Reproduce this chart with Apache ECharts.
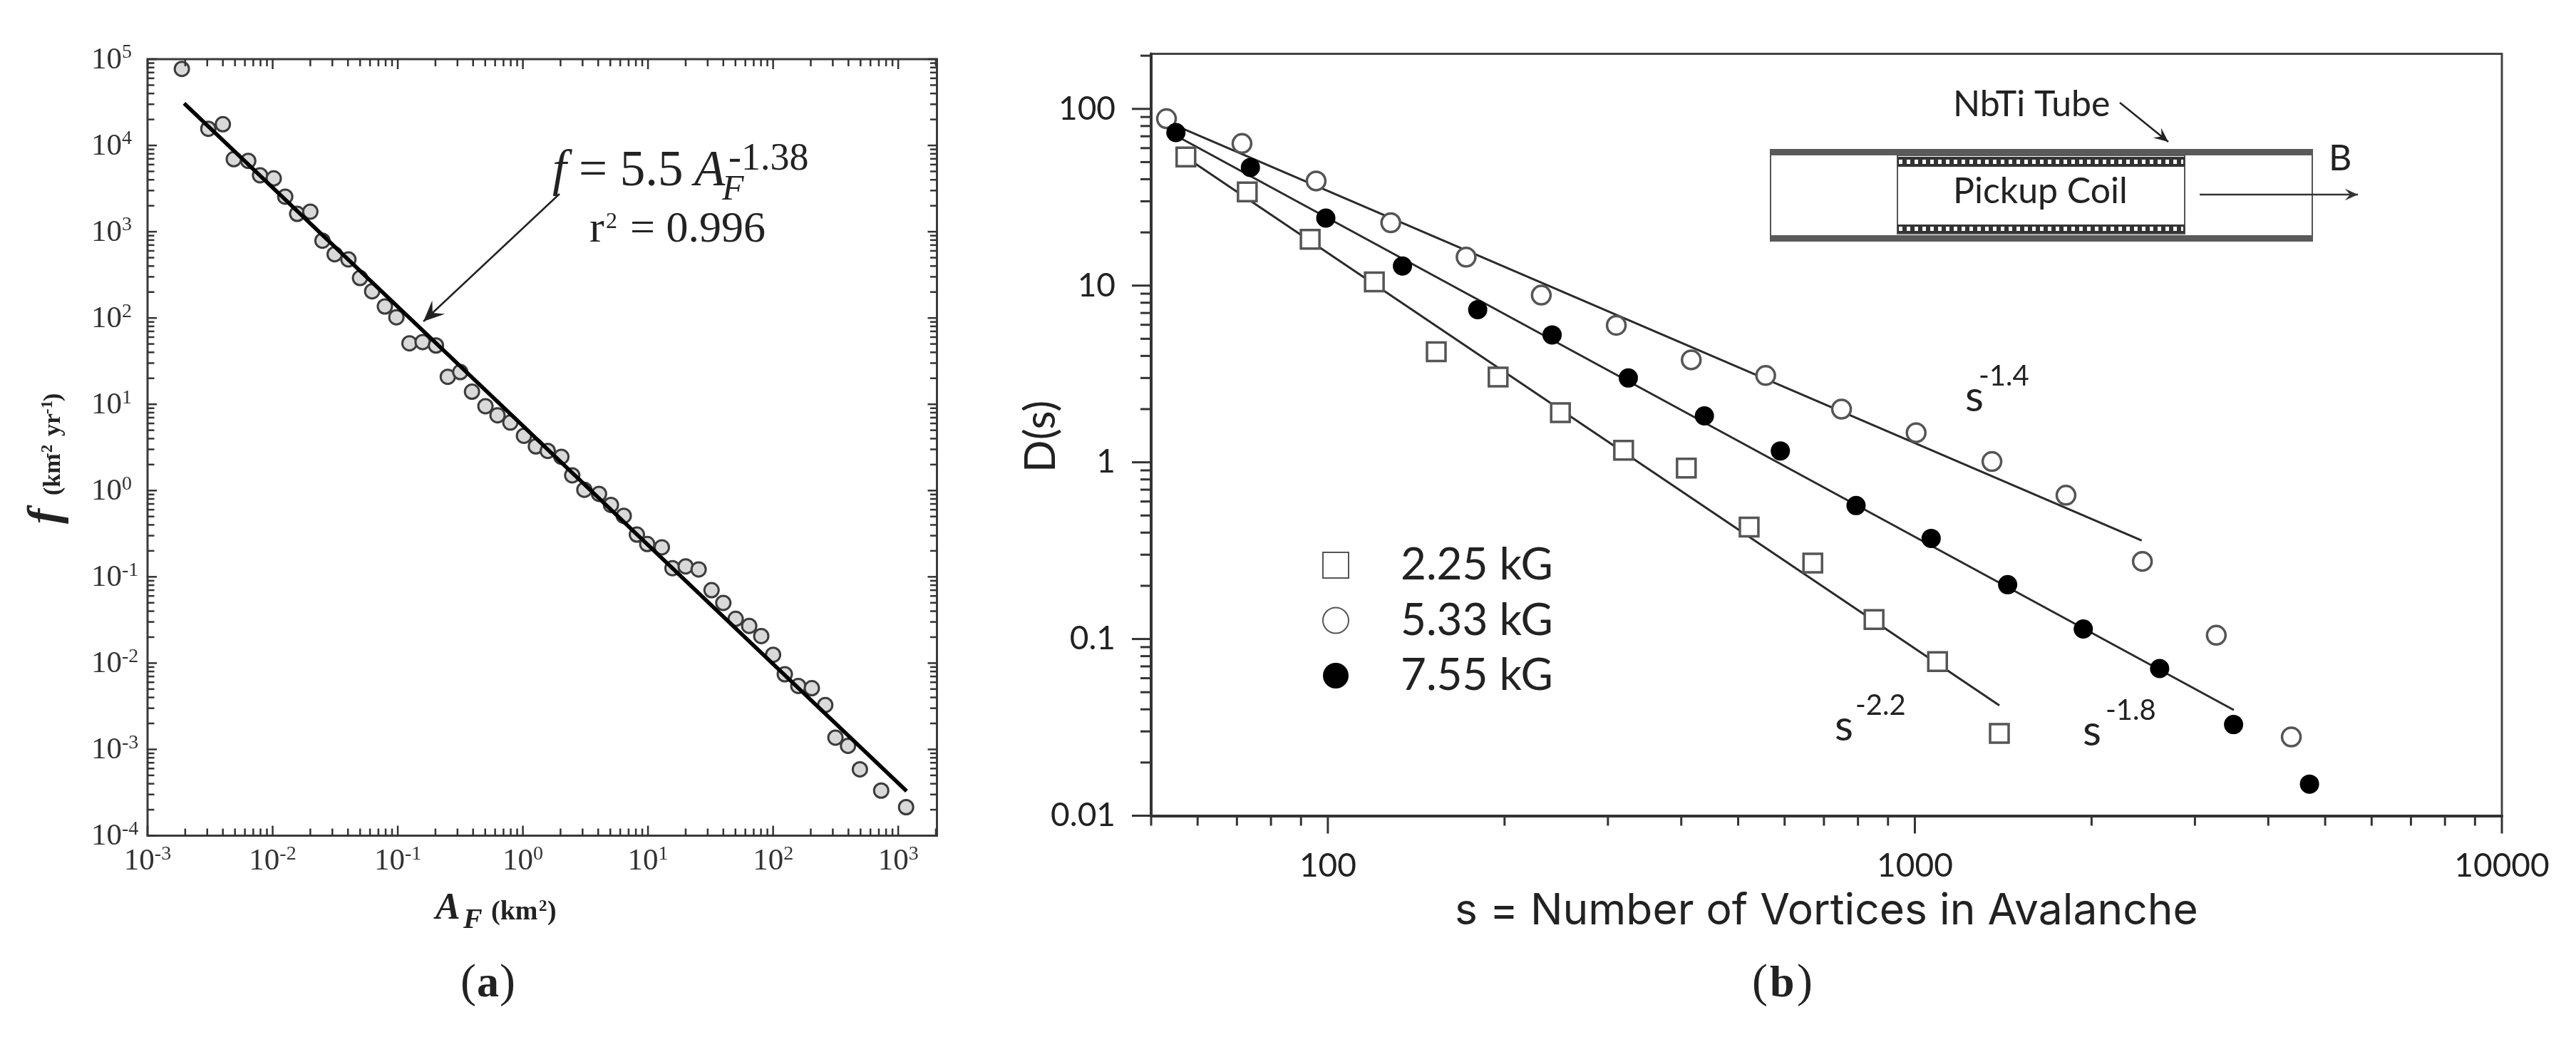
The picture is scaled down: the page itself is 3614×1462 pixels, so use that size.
<!DOCTYPE html>
<html lang="en">
  <head>
    <meta charset="UTF-8" />
    <title>Power-law frequency-size plots</title>
    <style>
      * {
        padding: 0;
        margin: 0;
      }
      body {
        background: #fff;
        overflow: hidden;
      }
      #chart {
        width: 3614px;
        height: 1462px;
      }
    </style>
    <script src="https://cdn.jsdelivr.net/npm/echarts@6/dist/echarts.min.js"></script>
  </head>
  <body>
    <div id="chart"></div>
    <script>
      // panel (a): landslide area vs frequency
      const fireArea = [
        1.88e-3, 3.06e-3, 4.0e-3, 4.89e-3, 6.38e-3, 7.93e-3, 1.02e-2, 1.26e-2, 1.57e-2, 2.0e-2,
        2.5e-2, 3.13e-2, 4.03e-2, 4.99e-2, 6.24e-2, 7.89e-2, 9.75e-2, 0.124, 0.158, 0.202,
        0.251, 0.316, 0.392, 0.502, 0.627, 0.794, 1.02, 1.27, 1.58, 2.03,
        2.48, 3.1, 4.06, 5.06, 6.4, 8.15, 9.86, 12.9, 15.7, 20.0,
        25.4, 32.2, 40.0, 50.2, 64.4, 80.4, 100, 124, 159, 204,
        261, 315, 397, 494, 731, 1156
      ];
      const fireFreq = [
        7.71e4, 1.56e4, 1.76e4, 6.93e3, 6.62e3, 4.51e3, 4.15e3, 2.55e3, 1.61e3, 1.71e3,
        787, 548, 478, 291, 204, 136, 102, 50.9, 52.6, 48.0,
        20.8, 23.6, 14.0, 9.49, 7.46, 6.14, 4.31, 3.25, 2.88, 2.46,
        1.5, 1.02, 0.916, 0.681, 0.51, 0.309, 0.24, 0.22, 0.126, 0.132,
        0.122, 0.0701, 0.0498, 0.0326, 0.027, 0.0206, 0.0125, 7.43e-3, 5.43e-3, 5.12e-3,
        3.27e-3, 1.37e-3, 1.1e-3, 5.87e-4, 3.33e-4, 2.14e-4
      ];
      const fireFitArea = [1.96e-3, 1167];
      const fireFitFreq = [30790, 3.28e-4];

      // panel (b): avalanche size distributions
      const squareS = [57.3, 72.9, 93.3, 120, 153, 195, 249, 319, 408, 522, 670, 852, 1093, 1393];
      const squareD = [53.5, 33.9, 18.3, 10.5, 4.22, 3.04, 1.91, 1.17, 0.927, 0.43, 0.269, 0.129, 0.0745, 0.0292];
      const circleS = [53.1, 71.4, 95.5, 128, 172, 231, 310, 416, 557, 750, 1005, 1353, 1809, 2441, 3262, 4378];
      const circleD = [88.0, 63.7, 39.1, 22.7, 14.5, 8.83, 5.96, 3.8, 3.1, 2.0, 1.47, 1.01, 0.651, 0.275, 0.105, 0.0279];
      const filledS = [55.1, 73.8, 99.2, 134, 180, 241, 325, 438, 590, 794, 1066, 1439, 1936, 2612, 3491, 4702];
      const filledD = [73.5, 46.6, 24.1, 12.9, 7.31, 5.26, 3.0, 1.83, 1.16, 0.569, 0.371, 0.203, 0.114, 0.0681, 0.0328, 0.0151];

      const squareFitS = [57.3, 1393];
      const squareFitD = [53.2, 0.0421];
      const circleFitS = [56.2, 2435];
      const circleFitD = [78.1, 0.3606];
      const filledFitS = [55.8, 3495];
      const filledFitD = [69.0, 0.03962];

      const legendNames = ["2.25 kG", "5.33 kG", "7.55 kG"];
      const minorMults = [2, 3, 4, 5, 6, 7, 8, 9];

      const zip = (a, b) => a.map((v, i) => [v, b[i]]);
      const SERIF = "Liberation Serif";
      const SANS = "Lato";
      const WIDE = "Inter";

      // every 1..9 x 10^k inside [min, max]
      function logTicks(min, max) {
        const out = [];
        for (let k = Math.floor(Math.log10(min)); k <= Math.ceil(Math.log10(max)); k++) {
          const base = Math.pow(10, k);
          if (base >= min && base <= max) out.push({ v: base, major: true });
          minorMults.forEach((m) => {
            const v = m * base;
            if (v >= min && v <= max) out.push({ v: v, major: false });
          });
        }
        return out;
      }

      function tickSeries(xi, yi, color, width, data) {
        return {
          type: "custom",
          xAxisIndex: xi,
          yAxisIndex: yi,
          silent: true,
          clip: false,
          z: 5,
          data: data,
          renderItem: (params, api) => {
            const p = api.coord([api.value(0), api.value(1)]);
            return {
              type: "line",
              shape: { x1: p[0], y1: p[1], x2: p[0] + api.value(2), y2: p[1] + api.value(3) },
              style: { stroke: color, lineWidth: width },
            };
          },
        };
      }

      const isPower = (v) => Math.abs(Math.log10(v) - Math.round(Math.log10(v))) < 1e-6;

      const powerLabel = (v) => (isPower(v) ? "{b|10}{s|" + Math.round(Math.log10(v)) + "}" : "");
      const powerRich = {
        b: { fontFamily: SERIF, fontSize: 43, color: "#333", lineHeight: 46, verticalAlign: "bottom" },
        s: { fontFamily: SERIF, fontSize: 28, color: "#333", lineHeight: 46, verticalAlign: "top" },
      };

      // panel (a) ticks point inward on all four sides
      const ax = { xMin: 1e-3, xMax: 2040, yMin: 1e-4, yMax: 1e5 };
      const aXTicks = logTicks(ax.xMin, ax.xMax);
      const aYTicks = logTicks(ax.yMin, ax.yMax);
      const aTickData = [];
      aXTicks.forEach((t) => {
        const len = t.major ? 14 : 10;
        aTickData.push([t.v, ax.yMin, 0, -len], [t.v, ax.yMax, 0, len]);
      });
      aYTicks.forEach((t) => {
        const len = t.major ? 13 : 9.5;
        aTickData.push([ax.xMin, t.v, len, 0], [ax.xMax, t.v, -len, 0]);
      });

      // panel (b) ticks point outward, left and bottom only
      const bx = { xMin: 50, xMax: 10000, yMin: 0.01, yMax: 205 };
      const bTickData = [];
      logTicks(bx.xMin, bx.xMax).forEach((t) => bTickData.push([t.v, bx.yMin, 0, t.major ? 25 : 14]));
      logTicks(bx.yMin, bx.yMax).forEach((t) => bTickData.push([bx.xMin, t.v, t.major ? -27 : -15, 0]));

      // text placed by baseline, the offset turns it into the canvas middle line
      function txt(x, base, text, size, o) {
        o = o || {};
        const font = o.font || SERIF;
        const k = (font === SERIF ? 0.3375 : 0.38) * size;
        const rot = o.rot || 0;
        return {
          type: "text",
          x: rot ? x - k : x,
          y: rot ? base : base - k,
          rotation: rot,
          z: 20,
          style: {
            text: text,
            fontFamily: font,
            fontSize: size,
            fontStyle: o.italic ? "italic" : "normal",
            fontWeight: o.bold ? "bold" : "normal",
            fill: o.color || "#222",
            align: o.align || "left",
            verticalAlign: "middle",
          },
        };
      }

      function arrow(x1, y1, x2, y2, size, lw, color) {
        const a = Math.atan2(y2 - y1, x2 - x1);
        const pt = (r, d) => [x2 + r * Math.cos(a + d), y2 + r * Math.sin(a + d)];
        return [
          {
            type: "line",
            z: 20,
            shape: { x1: x1, y1: y1, x2: x2, y2: y2 },
            style: { stroke: color, lineWidth: lw },
          },
          {
            type: "polygon",
            z: 20,
            shape: { points: [[x2, y2], pt(size, Math.PI - 0.42), pt(size * 0.55, Math.PI), pt(size, Math.PI + 0.42)] },
            style: { fill: color },
          },
        ];
      }

      const rect = (x, y, w, h, style) => ({
        type: "rect",
        z: 18,
        shape: { x: x, y: y, width: w, height: h },
        style: style,
      });
      const hLine = (x1, x2, y, style) => ({
        type: "line",
        z: 19,
        shape: { x1: x1, y1: y, x2: x2, y2: y },
        style: style,
      });

      const inset = [
        rect(2484, 210, 760, 128, { fill: "#fff", stroke: "#555", lineWidth: 2 }),
        rect(2484, 209, 760, 9, { fill: "#5a5a5a" }),
        rect(2484, 330, 760, 9, { fill: "#5a5a5a" }),
        rect(2662, 218, 403, 110, { fill: "#fff", stroke: "#555", lineWidth: 2 }),
        rect(2662, 220, 403, 14, { fill: "#333" }),
        rect(2662, 315, 403, 12, { fill: "#333" }),
        hLine(2664, 3063, 227, { stroke: "#fff", lineWidth: 6, lineDash: [5, 6] }),
        hLine(2664, 3063, 321, { stroke: "#fff", lineWidth: 6, lineDash: [5, 6] }),
        txt(2740, 288, "Pickup Coil", 50, { font: SANS }),
        txt(2740, 166, "NbTi Tube", 50, { font: SANS }),
        txt(3267, 242, "B", 50, { font: SANS }),
        ...arrow(2974, 144, 3042, 199, 22, 2.5, "#222"),
        ...arrow(3086, 273, 3308, 273, 20, 2.5, "#333"),
      ];

      const annotations = [
        // panel (a) formula
        txt(775, 265, "f", 71, { italic: true }),
        txt(812, 265, "= 5.5", 71),
        txt(974, 265, "A", 71, { italic: true }),
        txt(1013, 284, "F", 50, { italic: true }),
        txt(1022, 242, "-1.38", 54),
        txt(827, 344, "r", 62),
        txt(850, 322, "2", 32),
        txt(884, 344, "= 0.996", 62),
        ...arrow(785, 272, 594, 451, 32, 2.5, "#222"),
        // panel (a) axis names
        txt(611, 1293, "A", 52, { italic: true, bold: true }),
        txt(650, 1305, "F", 40, { italic: true, bold: true }),
        txt(689, 1293, "(km", 38, { bold: true }),
        txt(756, 1280, "2", 23, { bold: true }),
        txt(768, 1293, ")", 38, { bold: true }),
        txt(87, 735, "f", 64, { italic: true, bold: true, rot: Math.PI / 2 }),
        txt(87, 695, "(km", 34, { bold: true, rot: Math.PI / 2 }),
        txt(75, 643, "-2", 23, { bold: true, rot: Math.PI / 2 }),
        txt(87, 612, "yr", 34, { bold: true, rot: Math.PI / 2 }),
        txt(75, 581, "-1", 23, { bold: true, rot: Math.PI / 2 }),
        txt(87, 563, ")", 34, { bold: true, rot: Math.PI / 2 }),
        // panel (b) axis names
        txt(1483, 663, "D(s)", 60, { font: SANS, rot: Math.PI / 2 }),
        txt(2041, 1302, "s = Number of Vortices in Avalanche", 60.5, { font: WIDE }),
        // exponents next to the fitted lines
        txt(2757, 580, "s", 60, { font: SANS }),
        txt(2776, 543, "-1.4", 40, { font: SANS }),
        txt(2574, 1042, "s", 60, { font: SANS }),
        txt(2603, 1005, "-2.2", 40, { font: SANS }),
        txt(2922, 1049, "s", 60, { font: SANS }),
        txt(2954, 1012, "-1.8", 40, { font: SANS }),
        // captions
        txt(646, 1403, "(", 66),
        txt(669, 1403, "a", 62, { bold: true }),
        txt(701, 1403, ")", 66),
        txt(2458, 1403, "(", 66),
        txt(2483, 1403, "b", 62, { bold: true }),
        txt(2521, 1403, ")", 66),
        ...inset,
      ];

      const bLabel = { fontFamily: SANS, fontSize: 46, color: "#222" };
      const option = {
        animation: false,
        backgroundColor: "#fff",
        grid: [
          {
            left: 207,
            top: 83,
            width: 1107.5,
            height: 1089.5,
            show: true,
            borderColor: "#3a3a3a",
            borderWidth: 3,
          },
          {
            left: 1615,
            top: 75.5,
            width: 1895,
            height: 1069,
            show: true,
            borderColor: "#444",
            borderWidth: 3,
          },
        ],
        xAxis: [
          {
            type: "log",
            gridIndex: 0,
            min: ax.xMin,
            max: ax.xMax,
            axisLine: { show: false },
            axisTick: { show: false },
            splitLine: { show: false },
            axisLabel: { margin: 12, formatter: powerLabel, rich: powerRich, showMinLabel: true, hideOverlap: false },
          },
          {
            type: "log",
            gridIndex: 1,
            min: bx.xMin,
            max: bx.xMax,
            axisLine: { show: true, lineStyle: { color: "#333", width: 4 } },
            axisTick: { show: false },
            splitLine: { show: false },
            axisLabel: Object.assign({ margin: 48, formatter: (v) => (isPower(v) ? String(v) : "") }, bLabel),
          },
        ],
        yAxis: [
          {
            type: "log",
            gridIndex: 0,
            min: ax.yMin,
            max: ax.yMax,
            axisLine: { show: false },
            axisTick: { show: false },
            splitLine: { show: false },
            axisLabel: { margin: 79, align: "left", formatter: powerLabel, rich: powerRich, hideOverlap: false },
          },
          {
            type: "log",
            gridIndex: 1,
            min: bx.yMin,
            max: bx.yMax,
            axisLine: { show: true, lineStyle: { color: "#333", width: 4 } },
            axisTick: { show: false },
            splitLine: { show: false },
            axisLabel: Object.assign({ margin: 50, formatter: (v) => (isPower(v) ? String(v) : "") }, bLabel),
          },
        ],
        legend: {
          orient: "vertical",
          left: 1855,
          top: 762,
          padding: 0,
          itemGap: 15.5,
          itemWidth: 36,
          itemHeight: 36,
          selectedMode: false,
          data: legendNames,
          textStyle: { fontFamily: SANS, fontSize: 62, color: "#222", lineHeight: 50, padding: [0, 0, 0, 68] },
        },
        graphic: { elements: annotations },
        series: [
          tickSeries(0, 0, "#333", 2.5, aTickData),
          {
            name: "fires",
            type: "scatter",
            xAxisIndex: 0,
            yAxisIndex: 0,
            symbolSize: 20,
            z: 3,
            itemStyle: { color: "#d9d9d9", borderColor: "#3c3c3c", borderWidth: 3, opacity: 1 },
            data: zip(fireArea, fireFreq),
          },
          {
            name: "fire fit",
            type: "line",
            xAxisIndex: 0,
            yAxisIndex: 0,
            showSymbol: false,
            z: 4,
            lineStyle: { color: "#000", width: 5.5 },
            data: zip(fireFitArea, fireFitFreq),
          },
          tickSeries(1, 1, "#333", 3, bTickData),
          ...[
            ["square fit", squareFitS, squareFitD],
            ["circle fit", circleFitS, circleFitD],
            ["filled fit", filledFitS, filledFitD],
          ].map(([name, xs, ys]) => ({
            name: name,
            type: "line",
            xAxisIndex: 1,
            yAxisIndex: 1,
            showSymbol: false,
            z: 2,
            lineStyle: { color: "#2a2a2a", width: 3 },
            data: zip(xs, ys),
          })),
          {
            name: legendNames[0],
            type: "scatter",
            xAxisIndex: 1,
            yAxisIndex: 1,
            symbol: "rect",
            symbolSize: 26,
            z: 3,
            itemStyle: { color: "#fff", borderColor: "#555", borderWidth: 3.5, opacity: 1 },
            data: zip(squareS, squareD),
          },
          {
            name: legendNames[1],
            type: "scatter",
            xAxisIndex: 1,
            yAxisIndex: 1,
            symbol: "circle",
            symbolSize: 26,
            z: 3,
            itemStyle: { color: "#fff", borderColor: "#555", borderWidth: 3.5, opacity: 1 },
            data: zip(circleS, circleD),
          },
          {
            name: legendNames[2],
            type: "scatter",
            xAxisIndex: 1,
            yAxisIndex: 1,
            symbol: "circle",
            symbolSize: 27,
            z: 3,
            itemStyle: { color: "#000", borderColor: "#000", borderWidth: 0, opacity: 1 },
            data: zip(filledS, filledD),
          },
        ],
      };

      const myChart = echarts.init(document.getElementById("chart"));
      myChart.setOption(option);
    </script>
  </body>
</html>
